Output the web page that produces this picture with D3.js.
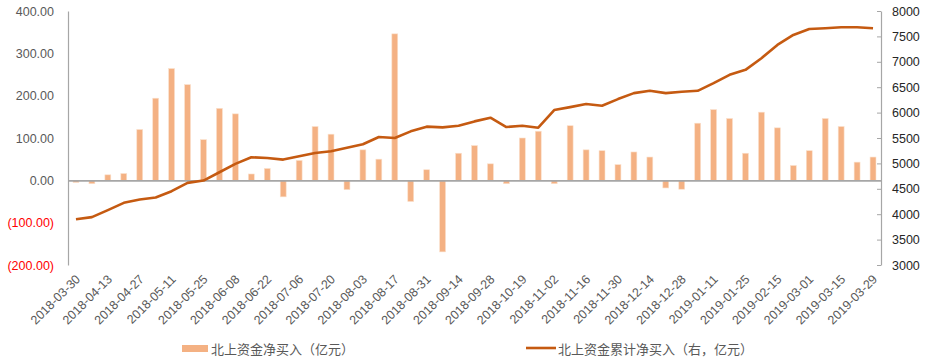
<!DOCTYPE html>
<html>
<head>
<meta charset="utf-8">
<script src="https://cdn.jsdelivr.net/npm/d3@7"></script>
<style>
  body { margin: 0; background: #fff; }
  svg text { font-family: "Liberation Sans", "Noto Sans CJK SC", sans-serif; }
</style>
</head>
<body>
<div id="viz"></div>
<script>
const width = 930, height = 363;
const margin = {top: 11, right: 49, bottom: 98, left: 68};

// weekly dates (2018-10-05 and 2019-02-08 are holidays, not in the data)
const dates = [
  "2018-03-30","2018-04-06","2018-04-13","2018-04-20","2018-04-27","2018-05-04","2018-05-11","2018-05-18",
  "2018-05-25","2018-06-01","2018-06-08","2018-06-15","2018-06-22","2018-06-29","2018-07-06","2018-07-13",
  "2018-07-20","2018-07-27","2018-08-03","2018-08-10","2018-08-17","2018-08-24","2018-08-31","2018-09-07",
  "2018-09-14","2018-09-21","2018-09-28","2018-10-12","2018-10-19","2018-10-26","2018-11-02","2018-11-09",
  "2018-11-16","2018-11-23","2018-11-30","2018-12-07","2018-12-14","2018-12-21","2018-12-28","2019-01-04",
  "2019-01-11","2019-01-18","2019-01-25","2019-02-01","2019-02-15","2019-02-22","2019-03-01","2019-03-08",
  "2019-03-15","2019-03-22","2019-03-29"
];
// 北上资金净买入（亿元）
const netBuy = [
  -5, -8, 13, 16, 120, 194, 264, 226, 96, 170, 157, 15, 28, -39, 47, 127,
  109, -22, 72, 50, 346, -50, 25, -169, 64, 82, 39, -8, 100, 116, -8, 129,
  72, 70, 37, 67, 55, -18, -21, 135, 167, 146, 64, 161, 124, 35, 70, 146,
  127, 43, 55
];
// 北上资金累计净买入（右，亿元）
const cumBuy = [
  3900, 3942, 4080, 4224, 4290, 4328, 4453, 4616, 4662, 4826, 4990, 5120, 5107, 5075, 5140, 5205,
  5238, 5310, 5376, 5520, 5500, 5631, 5723, 5710, 5742, 5827, 5899, 5716, 5742, 5703, 6050, 6108,
  6168, 6135, 6266, 6383, 6429, 6383, 6410, 6429, 6580, 6743, 6842, 7071, 7332, 7529, 7647, 7660,
  7679, 7679, 7660
];
const leftTicks = [-200, -100, 0, 100, 200, 300, 400];
const rightTicks = [3000, 3500, 4000, 4500, 5000, 5500, 6000, 6500, 7000, 7500, 8000];
const barLabel = "北上资金净买入（亿元）";
const lineLabel = "北上资金累计净买入（右，亿元）";

const barColor = "#F4B183", lineColor = "#C55A11", axisGrey = "#A6A6A6", textGrey = "#595959";

const svg = d3.select("#viz").append("svg").attr("width", width).attr("height", height);

const x = d3.scaleBand().domain(dates)
  .range([margin.left, width - margin.right])
  .paddingInner(0.63).paddingOuter(0.315);
const yL = d3.scaleLinear().domain([-200, 400]).range([height - margin.bottom, margin.top]);
const yR = d3.scaleLinear().domain([3000, 8000]).range([height - margin.bottom, margin.top]);

// left axis
const leftAxis = svg.append("g")
  .attr("transform", `translate(${margin.left},0)`)
  .call(d3.axisLeft(yL).tickValues(leftTicks).tickSize(0).tickPadding(14)
    .tickFormat(d => d < 0 ? `(${Math.abs(d).toFixed(2)})` : d.toFixed(2)));
leftAxis.select(".domain").attr("stroke", axisGrey).attr("stroke-width", 1.2);
leftAxis.selectAll("text").attr("font-size", 12.5)
  .attr("fill", d => d < 0 ? "#FF0000" : textGrey);

// right axis
const rightAxis = svg.append("g")
  .attr("transform", `translate(${width - margin.right},0)`)
  .call(d3.axisRight(yR).tickValues(rightTicks).tickFormat(d3.format("d"))
    .tickSizeInner(-4).tickSizeOuter(0).tickPadding(11));
rightAxis.select(".domain").attr("stroke", axisGrey).attr("stroke-width", 1.2);
rightAxis.selectAll(".tick line").attr("stroke", axisGrey);
rightAxis.selectAll("text").attr("font-size", 12.5).attr("fill", "#262626");

// bars
svg.append("g").selectAll("rect").data(netBuy).join("rect")
  .attr("x", (d, i) => x(dates[i]))
  .attr("y", d => yL(Math.max(0, d)))
  .attr("width", x.bandwidth())
  .attr("height", d => Math.abs(yL(d) - yL(0)))
  .attr("fill", barColor)
  .attr("stroke", "#FBE0CB")
  .attr("stroke-width", 0.6);

// zero line / category axis
const xAxis = svg.append("g")
  .attr("transform", `translate(0,${yL(0)})`)
  .call(d3.axisBottom(x).tickValues(dates.filter((d, i) => i % 2 === 0)).tickSize(0).tickFormat(""));
xAxis.select(".domain").attr("stroke", axisGrey).attr("stroke-width", 1.8);

// rotated date labels
svg.append("g").selectAll("text")
  .data(dates.filter((d, i) => i % 2 === 0))
  .join("text")
  .attr("transform", d => `translate(${x(d) + x.bandwidth() / 2 + 5},${height - margin.bottom + 15}) rotate(-45)`)
  .attr("text-anchor", "end")
  .attr("font-size", 12.5)
  .attr("fill", textGrey)
  .text(d => d);

// cumulative line
const line = d3.line()
  .x((d, i) => x(dates[i]) + x.bandwidth() / 2)
  .y(d => yR(d));
svg.append("path").datum(cumBuy)
  .attr("d", line)
  .attr("fill", "none")
  .attr("stroke", lineColor)
  .attr("stroke-width", 2.6)
  .attr("stroke-linejoin", "round");

// legend
const legend = svg.append("g");
legend.append("rect").attr("x", 182).attr("y", 345).attr("width", 26).attr("height", 7).attr("fill", barColor);
legend.append("text").attr("x", 211).attr("y", 349).attr("dy", "0.35em")
  .attr("font-size", 13).attr("fill", textGrey)
  .style("font-family", "'Noto Sans CJK SC', sans-serif").text(barLabel);
legend.append("line").attr("x1", 526).attr("x2", 556).attr("y1", 348).attr("y2", 348)
  .attr("stroke", lineColor).attr("stroke-width", 2.6);
legend.append("text").attr("x", 558).attr("y", 349).attr("dy", "0.35em")
  .attr("font-size", 13).attr("fill", textGrey)
  .style("font-family", "'Noto Sans CJK SC', sans-serif").text(lineLabel);
</script>
</body>
</html>
